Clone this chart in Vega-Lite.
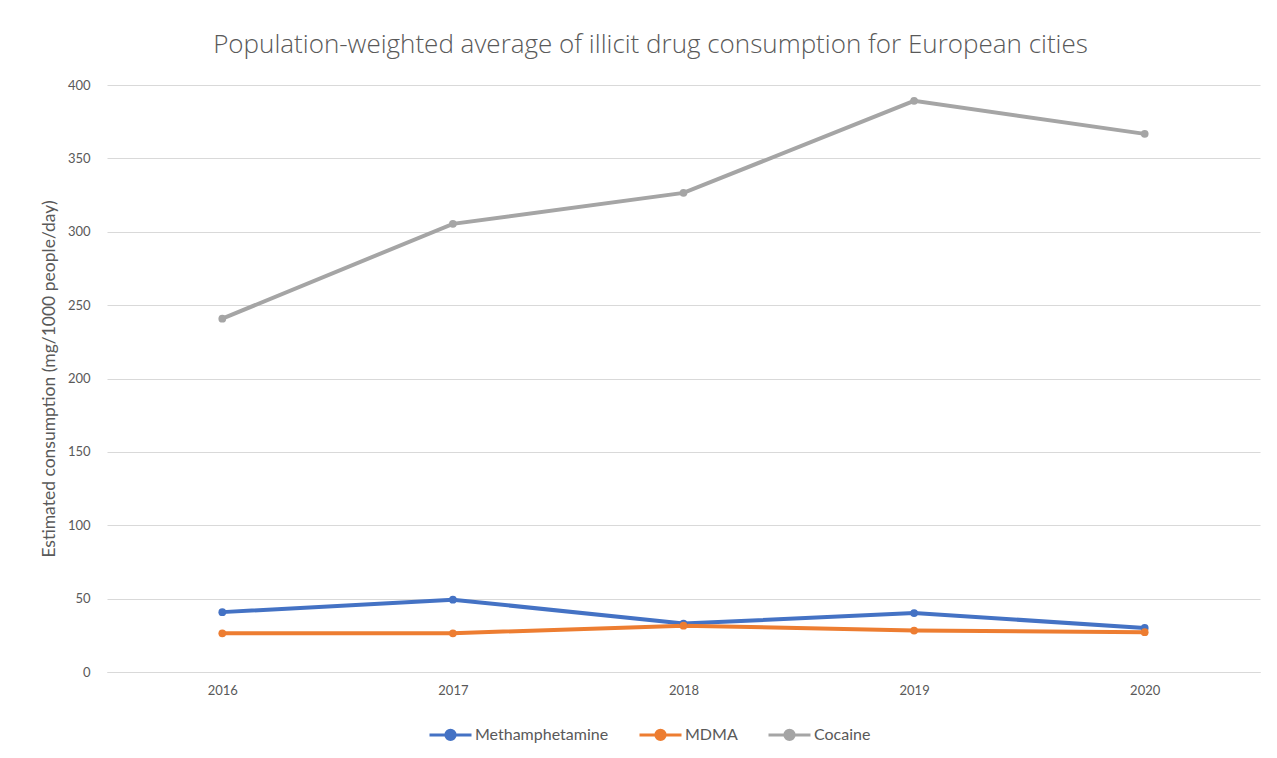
{
  "$schema": "https://vega.github.io/schema/vega-lite/v6.json",
  "autosize": "none",
  "width": 1153,
  "height": 587,
  "padding": {"left": 107, "top": 85, "right": 17, "bottom": 86},
  "background": "white",
  "title": {
    "text": "Population-weighted average of illicit drug consumption for European cities",
    "font": "Open Sans",
    "fontSize": 26,
    "fontWeight": 300,
    "color": "#595959",
    "offset": 21,
    "dx": -33
  },
  "data": {
    "values": [
      {"year": "2016", "drug": "Methamphetamine", "value": 40.8},
      {"year": "2017", "drug": "Methamphetamine", "value": 49.3},
      {"year": "2018", "drug": "Methamphetamine", "value": 33.0},
      {"year": "2019", "drug": "Methamphetamine", "value": 40.2},
      {"year": "2020", "drug": "Methamphetamine", "value": 30.0},
      {"year": "2016", "drug": "MDMA", "value": 26.4},
      {"year": "2017", "drug": "MDMA", "value": 26.4},
      {"year": "2018", "drug": "MDMA", "value": 31.6},
      {"year": "2019", "drug": "MDMA", "value": 28.2},
      {"year": "2020", "drug": "MDMA", "value": 27.1},
      {"year": "2016", "drug": "Cocaine", "value": 240.8},
      {"year": "2017", "drug": "Cocaine", "value": 305.4},
      {"year": "2018", "drug": "Cocaine", "value": 326.5},
      {"year": "2019", "drug": "Cocaine", "value": 389.2},
      {"year": "2020", "drug": "Cocaine", "value": 366.7}
    ]
  },
  "mark": {"type": "line", "strokeWidth": 4, "point": {"size": 60, "filled": true, "opacity": 1}},
  "encoding": {
    "x": {
      "field": "year",
      "type": "ordinal",
      "scale": {"type": "point", "padding": 0.5},
      "axis": {
        "title": null,
        "labelAngle": 0,
        "labelPadding": 12,
        "ticks": false,
        "domain": true,
        "domainColor": "#d9d9d9",
        "grid": false
      }
    },
    "y": {
      "field": "value",
      "type": "quantitative",
      "scale": {"domain": [0, 400], "nice": false},
      "axis": {
        "title": "Estimated consumption (mg/1000 people/day)",
        "values": [0, 50, 100, 150, 200, 250, 300, 350, 400],
        "ticks": false,
        "domain": false,
        "labelPadding": 17,
        "titlePadding": 9,
        "titleFontSize": 17.5,
        "gridColor": "#d9d9d9",
        "gridWidth": 1
      }
    },
    "color": {
      "field": "drug",
      "type": "nominal",
      "scale": {
        "domain": ["Methamphetamine", "MDMA", "Cocaine"],
        "range": ["#4472C4", "#ED7D31", "#A5A5A5"]
      },
      "legend": {
        "title": null,
        "orient": "none",
        "direction": "horizontal",
        "legendX": 321,
        "legendY": 627,
        "symbolType": "M-1,0L1,0M0.22,0A0.22,0.22,0,1,1,-0.22,0A0.22,0.22,0,1,1,0.22,0",
        "symbolSize": 1764,
        "symbolStrokeWidth": 3,
        "labelFontSize": 16,
        "labelOffset": 2,
        "columnPadding": 24
      }
    }
  },
  "config": {
    "view": {"stroke": null},
    "font": "Lato",
    "axis": {
      "labelFont": "Lato",
      "labelFontSize": 13,
      "labelColor": "#595959",
      "titleFont": "Lato",
      "titleFontSize": 14,
      "titleFontWeight": "normal",
      "titleColor": "#595959"
    },
    "legend": {
      "labelFont": "Lato",
      "labelColor": "#595959"
    }
  }
}
